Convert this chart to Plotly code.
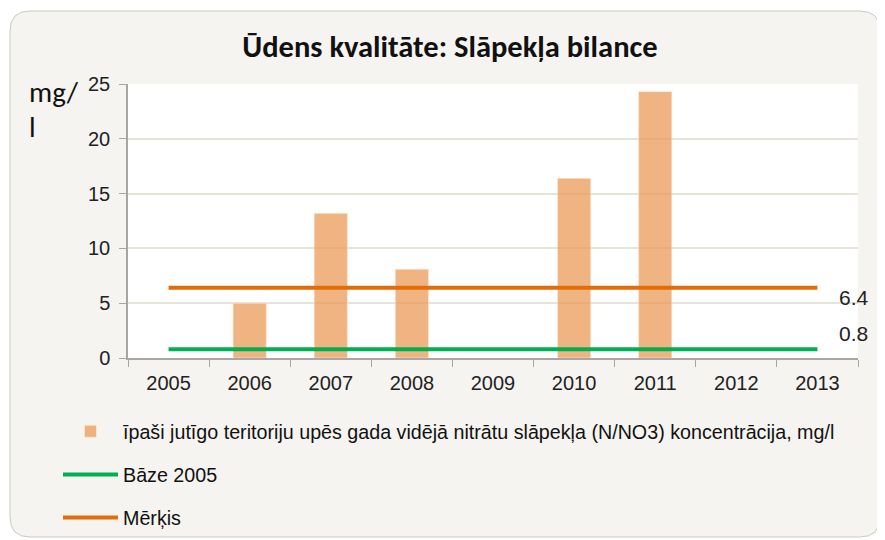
import plotly.graph_objects as go

years = ["2005", "2006", "2007", "2008", "2009", "2010", "2011", "2012", "2013"]
nitrate = [None, 5.0, 13.2, 8.1, None, 16.4, 24.3, None, None]
baseline = [0.8, 0.8, 0.8, 0.8, 0.8, 0.8, 0.8, 0.8, 0.8]
target = [6.4, 6.4, 6.4, 6.4, 6.4, 6.4, 6.4, 6.4, 6.4]

bar_name = "īpaši jutīgo teritoriju upēs gada vidējā nitrātu slāpekļa (N/NO3) koncentrācija, mg/l"
base_name = "Bāze 2005"
target_name = "Mērķis"
title_text = "<b>Ūdens kvalitāte: Slāpekļa bilance</b>"
y_unit = ["mg/", "l"]

narrow = "Liberation Sans, Arial, sans-serif"
calibri = "Carlito, Noto Sans, sans-serif"

W, H = 885, 540
OFF = 8  # page body margin
# plot area in screen pixels
SL, SR, ST, SB = 128, 858, 84, 358
L, R, T, B = SL - OFF, SR - OFF, ST - OFF, SB - OFF


def px_x(p):
    return (p - SL) / (SR - SL)


def px_y(p):
    return (SB - p) / (SB - ST)


fig = go.Figure()
fig.add_trace(go.Bar(
    x=years, y=nitrate, name=bar_name, width=0.41,
    marker=dict(color="rgba(235,155,88,0.75)", line=dict(color="rgba(255,235,215,0.6)", width=1)),
    legendgroup="a",
))
fig.add_trace(go.Scatter(
    x=years, y=baseline, name=base_name, mode="lines",
    line=dict(color="#00B050", width=4), legendgroup="b",
))
fig.add_trace(go.Scatter(
    x=years, y=target, name=target_name, mode="lines",
    line=dict(color="#E36C0A", width=4), legendgroup="c",
))

# rounded frame
x0, x1 = px_x(10), px_x(880)
y0, y1 = px_y(537), px_y(11)
rx = 20 / (SR - SL)
ry = 20 / (SB - ST)
path = (f"M{x0+rx},{y1} L{x1-rx},{y1} Q{x1},{y1} {x1},{y1-ry} "
        f"L{x1},{y0+ry} Q{x1},{y0} {x1-rx},{y0} "
        f"L{x0+rx},{y0} Q{x0},{y0} {x0},{y0+ry} "
        f"L{x0},{y1-ry} Q{x0},{y1} {x0+rx},{y1} Z")
fig.add_shape(type="path", path=path, xref="paper", yref="paper",
              fillcolor="#F5F4F0", line=dict(color="#C9C9C9", width=1), layer="below")
fig.add_shape(type="rect", x0=0, x1=1, y0=0, y1=1, xref="paper", yref="paper",
              fillcolor="white", line=dict(width=0), layer="below")

# data labels at last point (category axis: position by index)
last = len(years) - 1
fig.add_annotation(x=last, y=target[last], xref="x", yref="y", text=str(target[last]),
                   showarrow=False, xanchor="left", yanchor="middle", xshift=20, yshift=-10,
                   font=dict(family=narrow, size=21, color="#222"))
fig.add_annotation(x=last, y=baseline[last], xref="x", yref="y", text=str(baseline[last]),
                   showarrow=False, xanchor="left", yanchor="middle", xshift=20, yshift=16,
                   font=dict(family=narrow, size=21, color="#222"))

# y unit
fig.add_annotation(x=px_x(27), y=px_y(92), xref="paper", yref="paper", text=y_unit[0],
                   showarrow=False, xanchor="left", yanchor="middle",
                   font=dict(family=calibri, size=29, color="#111"))
fig.add_annotation(x=px_x(27), y=px_y(127), xref="paper", yref="paper", text=y_unit[1],
                   showarrow=False, xanchor="left", yanchor="middle",
                   font=dict(family=calibri, size=29, color="#111"))

fig.update_layout(
    width=W, height=H,
    margin=dict(l=L, r=W - R, t=T, b=H - B, autoexpand=False),
    paper_bgcolor="white",
    plot_bgcolor="rgba(0,0,0,0)",
    title=dict(text=title_text, x=(450 - OFF) / W, xref="container", xanchor="center",
               y=1 - (46 - OFF) / H, yanchor="middle",
               font=dict(family=calibri, size=30.5, color="#111")),
    showlegend=True,
    legend=dict(orientation="v", x=px_x(58), xanchor="left", y=px_y(412), yanchor="top",
                traceorder="grouped", tracegroupgap=14.5, bgcolor="rgba(0,0,0,0)",
                font=dict(family=narrow, size=19.7, color="#111"), itemwidth=55),
    bargap=0.5,
    xaxis=dict(
        type="category", showgrid=False, showline=True, linecolor="#A6A6A6", linewidth=1.5,
        ticks="outside", tickson="boundaries", ticklen=7, tickcolor="#A6A6A6",
        tickfont=dict(family=narrow, size=20, color="#222"), range=[-0.5, 8.5],
        ticklabelstandoff=6,
    ),
    yaxis=dict(
        range=[0, 25], dtick=5, showgrid=True, gridcolor="#E6E4D8", gridwidth=1.5,
        showline=True, linecolor="#A6A6A6", linewidth=1.5, ticks="outside", ticklen=7,
        tickcolor="#A6A6A6", tickfont=dict(family=narrow, size=20, color="#222"),
        zeroline=False, ticklabelstandoff=5,
    ),
)

fig.write_html("out.html")
